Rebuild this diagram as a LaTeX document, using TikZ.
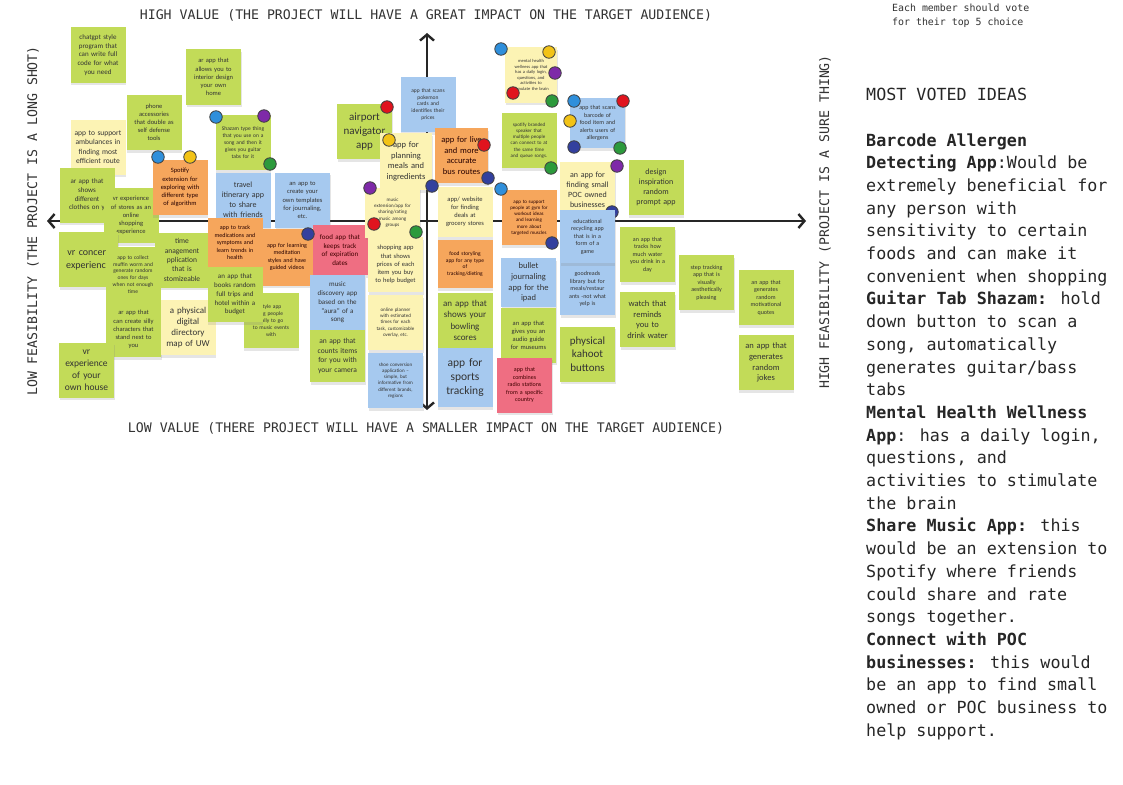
\documentclass[tikz,border=0pt]{standalone}
\usepackage{fontspec}
\setmainfont{Carlito}
\newfontfamily\notefont{Carlito}
\newfontfamily\monofont{DejaVu Sans Mono}
\usetikzlibrary{arrows.meta,shadows}
\definecolor{ngreen}{HTML}{C2DB58}
\definecolor{nyellow}{HTML}{FCF3B4}
\definecolor{norange}{HTML}{F6A65C}
\definecolor{nblue}{HTML}{A6C9EF}
\definecolor{npink}{HTML}{EF6E82}
\definecolor{dsky}{HTML}{2F8FDB}
\definecolor{dpurple}{HTML}{7E2AA8}
\definecolor{dyellow}{HTML}{F2C317}
\definecolor{dred}{HTML}{E0141E}
\definecolor{dgreen}{HTML}{2C9A3C}
\definecolor{dnavy}{HTML}{33409E}
\definecolor{inkgray}{HTML}{333333}
\newcommand\nf[1]{\fontsize{#1}{#1}\selectfont\setlength\baselineskip{1.25\baselineskip}}
\tikzset{
  note/.style={rectangle, inner sep=1.5pt, align=center, text=black!80,
    minimum width=55pt, minimum height=55pt, text width=52pt,
    drop shadow={shadow xshift=0.5pt, shadow yshift=-2.5pt, opacity=0.2}},
  gn/.style={note, fill=ngreen},
  yn/.style={note, fill=nyellow},
  on/.style={note, fill=norange, text=black!70!red!50!black},
  bn/.style={note, fill=nblue},
  pn/.style={note, fill=npink, text=black!75!red},
  fs/.style={font=\notefont\nf{#1}},
  vote/.style={circle, minimum size=12.5pt, inner sep=0pt, draw=black!75, line width=0.8pt, fill=#1},
  axisline/.style={line width=2.4pt, draw=black!85,
    {Straight Barb[length=6pt,width=14pt]}-{Straight Barb[length=6pt,width=14pt]}},
  lbl/.style={font=\monofont\fontsize{13.2}{15}\selectfont, text=inkgray, inner sep=0pt}
}
\begin{document}
\begin{tikzpicture}[x=1pt,y=-1pt]
\useasboundingbox (0,0) rectangle (1123,784);
\fill[white] (0,0) rectangle (1123,784);

% axes
\coordinate (axL) at (47,221);
\coordinate (axR) at (806,221);
\coordinate (axT) at (427,33);
\coordinate (axB) at (427,410);
\draw[axisline] (axL) -- (axR);
\draw[axisline] (axB) -- (axT);

% axis labels
\node[lbl] (top) at (426,15) {HIGH VALUE (THE PROJECT WILL HAVE A GREAT IMPACT ON THE TARGET AUDIENCE)};
\node[lbl] (bottom) at (426,428) {LOW VALUE (THERE PROJECT WILL HAVE A SMALLER IMPACT ON THE TARGET AUDIENCE)};
\node[lbl, rotate=90] (left) at (33,221) {LOW FEASIBILITY (THE PROJECT IS A LONG SHOT)};
\node[lbl, rotate=90] (right) at (825,222) {HIGH FEASIBILITY (PROJECT IS A SURE THING)};

% top-right note
\node[anchor=north west, inner sep=0pt, align=left, text=inkgray,
  font=\monofont\fontsize{9.9}{14}\selectfont] (vote) at (892,4) {Each member should vote\\for their top 5 choice};

% right panel
\node[anchor=north west, inner sep=0pt, align=left, text=black!85,
  font=\monofont\fontsize{16.7}{22.7}\selectfont] (panel) at (866,88) {MOST VOTED IDEAS\\[22.7pt]
\textbf{Barcode Allergen}\\
\textbf{Detecting App}:Would be\\
extremely beneficial for\\
any person with\\
sensitivity to certain\\
foods and can make it\\
convenient when shopping\\
\textbf{Guitar Tab Shazam:} hold\\
down button to scan a\\
song, automatically\\
generates guitar/bass\\
tabs\\
\textbf{Mental Health Wellness}\\
\textbf{App}: has a daily login,\\
questions, and\\
activities to stimulate\\
the brain\\
\textbf{Share Music App:} this\\
would be an extension to\\
Spotify where friends\\
could share and rate\\
songs together.\\
\textbf{Connect with POC}\\
\textbf{businesses:} this would\\
be an app to find small\\
owned or POC business to\\
help support.};

% ---- sticky notes, left half ----
\node[gn, fs=7] (n1) at (98,55) {chatgpt style\\program that\\can write full\\code for what\\you need};
\node[gn, fs=6.5] (n2) at (213.5,77) {ar app that\\allows you to\\interior design\\your own\\home};
\node[gn, fs=6.5] (n3) at (154,122.5) {phone\\accessories\\that double as\\self defense\\tools};
\node[yn, fs=7.5] (n4) at (98,147) {app to support\\ambulances in\\finding most\\efficient route};
\node[gn, fs=7] (n6) at (87,195) {ar app that\\shows\\different\\clothes on y};
\node[gn, fs=6.5] (n7) at (131,215.5) {vr experience\\of stores as an\\online\\shopping\\experience};
\node[on, fs=6.5] (n5) at (180,187.5) {Spotify\\extension for\\exploring with\\different type\\of algorithm};
\node[gn, fs=7.5] (n10) at (182,260) {time\\anagement\\pplication\\that is\\stomizeable};
\node[gn, fs=10, minimum width=59pt, text width=56pt] (n8) at (88.5,259.5) {vr concert\\experience};
\node[gn, fs=5.5] (n9) at (133,274.5) {app to collect\\muffin worm and\\generate random\\ones for days\\when not enough\\time};
\node[gn, fs=6.5] (n11) at (133.5,329.5) {ar app that\\can create silly\\characters that\\stand next to\\you};
\node[yn, fs=9] (n12) at (188,327.5) {a physical\\digital\\directory\\map of UW};
\node[gn, fs=9.5] (n13) at (86.5,370) {vr\\experience\\of your\\own house};

\node[gn, fs=5.5] (n14) at (243,142.5) {Shazam type thing\\that you use on a\\song and then it\\gives you guitar\\tabs for it};
\node[bn, fs=8] (n15) at (243,200) {travel\\itinerary app\\to share\\with friends};
\node[bn, fs=6.5] (n16) at (302.5,200) {an app to\\create your\\own templates\\for journaling,\\etc.};
\node[gn, fs=11] (n17) at (364.5,131.5) {airport\\navigator\\app};
\node[on, fs=6, minimum height=49pt] (n18) at (235,242.5) {app to track\\medications and\\symptoms and\\learn trends in\\health};
\node[on, fs=6, minimum height=57pt] (n19) at (287,257) {app for learning\\meditation\\styles and have\\guided videos};
\node[gn, fs=5.5] (n21) at (271,320.5) {style app\\ing people\\ually to go\\to music events\\with};
\node[gn, fs=7] (n20) at (235,294.5) {an app that\\books random\\full trips and\\hotel within a\\budget};
\node[pn, fs=7, minimum height=50pt] (n22) at (340,250) {food app that\\keeps track\\of expiration\\dates};
\node[bn, fs=7] (n23) at (337.5,302.5) {music\\discovery app\\based on the\\“aura” of a\\song};
\node[gn, fs=7.5, minimum height=52pt] (n24) at (337.5,356) {an app that\\counts items\\for you with\\your camera};

% ---- centre column ----
\node[bn, fs=5.5] (n25) at (428,104.5) {app that scans\\pokemon\\cards and\\identifies their\\prices};
\node[yn, fs=8.5, minimum width=52pt, text width=49pt, minimum height=57pt] (n26) at (406,161.5) {app for\\planning\\meals and\\ingredients};
\node[on, fs=8.5, minimum width=53pt, text width=50pt] (n27) at (461.5,155.5) {app for live\\and more\\accurate\\bus routes};
\node[yn, fs=5, minimum height=50pt] (n28) at (392.5,212.5) {music\\extension/app for\\sharing/rating\\music among\\groups};
\node[yn, fs=6.5, minimum height=50pt] (n29) at (465,212) {app/ website\\for finding\\deals at\\grocery stores};
\node[yn, fs=6.5] (n30) at (395.5,264.5) {shopping app\\that shows\\prices of each\\item you buy\\to help budget};
\node[yn, fs=5] (n31) at (395.5,322.5) {online planner\\with estimated\\times for each\\task, customizable\\overlay, etc.};
\node[bn, fs=5] (n32) at (395.5,380.5) {shoe conversion\\application –\\simple, but\\informative from\\different brands,\\regions};
\node[on, fs=5.5, minimum height=48pt] (n33) at (465,264) {food storyling\\app for any type\\of\\tracking/dieting};
\node[gn, fs=9] (n34) at (465,320.5) {an app that\\shows your\\bowling\\scores};
\node[bn, fs=11.5, minimum height=59pt] (n35) at (465,377.5) {app for\\sports\\tracking};

% ---- right half ----
\node[yn, fs=4.5, minimum width=52pt, text width=49pt] (n36) at (531,75) {mental health\\wellness app that\\has a daily login,\\questions, and\\activities to\\stimulate the brain};
\node[gn, fs=5] (n37) at (529,140.5) {spotify branded\\speaker that\\multiple people\\can connect to at\\the same time\\and queue songs.};
\node[bn, fs=6, minimum height=50pt] (n38) at (597.5,123) {app that scans\\barcode of\\food item and\\alerts users of\\allergens};
\node[yn, fs=8] (n39) at (587.5,189.5) {an app for\\finding small\\POC owned\\businesses};
\node[on, fs=5] (n40) at (529,217.5) {app to support\\people at gym for\\workout ideas\\and learning\\more about\\targeted muscles};
\node[vote=dnavy] (d29) at (612,212) {};
\node[bn, fs=6, minimum height=52pt] (n42) at (587.5,289) {goodreads\\library but for\\meals/restaur\\ants -not what\\yelp is};
\node[bn, fs=6, minimum height=53pt] (n41) at (587.5,236.5) {educational\\recycling app\\that is in a\\form of a\\game};
\node[bn, fs=8.5, minimum height=49pt] (n43) at (528.5,282.5) {bullet\\journaling\\app for the\\ipad};
\node[gn, fs=6.5] (n44) at (528.5,335) {an app that\\gives you an\\audio guide\\for museums};
\node[pn, fs=6] (n45) at (524.5,385) {app that\\combines\\radio stations\\from a specific\\country};
\node[gn, fs=11] (n46) at (587.5,354) {physical\\kahoot\\buttons};
\node[gn, fs=8] (n47) at (656,187.5) {design\\inspiration\\random\\prompt app};
\node[gn, fs=6] (n48) at (647.5,254.5) {an app that\\tracks how\\much water\\you drink in a\\day};
\node[gn, fs=8.5] (n49) at (647.5,319.5) {watch that\\reminds\\you to\\drink water};
\node[gn, fs=6] (n50) at (706.5,282.5) {step tracking\\app that is\\visually\\aesthetically\\pleasing};
\node[gn, fs=6] (n51) at (766,297.5) {an app that\\generates\\random\\motivational\\quotes};
\node[gn, fs=8.5] (n52) at (766,362.5) {an app that\\generates\\random\\jokes};

% ---- vote dots ----
\node[vote=dsky] (d1) at (216,117) {};
\node[vote=dpurple] (d2) at (264,116) {};
\node[vote=dgreen] (d3) at (270,164) {};
\node[vote=dsky] (d4) at (158,157) {};
\node[vote=dyellow] (d5) at (190,157) {};
\node[vote=dred] (d6) at (387,107) {};
\node[vote=dyellow] (d7) at (389,140) {};
\node[vote=dred] (d8) at (484,145) {};
\node[vote=dnavy] (d9) at (488,178) {};
\node[vote=dnavy] (d10) at (432,186) {};
\node[vote=dpurple] (d11) at (370,188) {};
\node[vote=dred] (d12) at (374,224) {};
\node[vote=dgreen] (d13) at (416,232) {};
\node[vote=dnavy] (d14) at (308,234) {};
\node[vote=dsky] (d15) at (501,49) {};
\node[vote=dyellow] (d16) at (549,52) {};
\node[vote=dpurple] (d17) at (555,73) {};
\node[vote=dred] (d18) at (513,93) {};
\node[vote=dgreen] (d19) at (552,101) {};
\node[vote=dsky] (d20) at (574,101) {};
\node[vote=dred] (d21) at (623,101) {};
\node[vote=dyellow] (d22) at (570,121) {};
\node[vote=dnavy] (d23) at (574,147) {};
\node[vote=dgreen] (d24) at (620,148) {};
\node[vote=dgreen] (d25) at (551,168) {};
\node[vote=dsky] (d26) at (501,189) {};
\node[vote=dpurple] (d27) at (617,166) {};
\node[vote=dnavy] (d28) at (552,243) {};
\end{tikzpicture}
\end{document}
